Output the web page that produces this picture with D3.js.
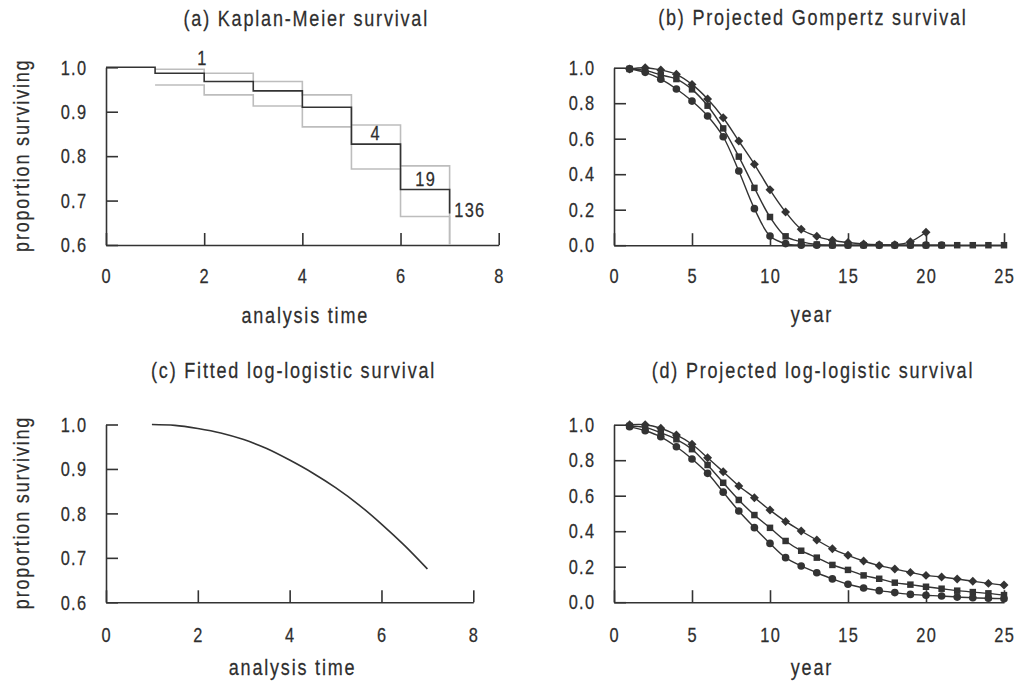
<!DOCTYPE html>
<html>
<head>
<meta charset="utf-8">
<script src="https://cdn.jsdelivr.net/npm/d3@7"></script>
<style>
  html, body { margin: 0; padding: 0; background: #fff; }
  svg { display: block; }
  text { font-family: 'Liberation Sans', Arial, sans-serif; fill: #2e2e2e; stroke: #2e2e2e; stroke-width: 0.25px; }
</style>
</head>
<body>
<svg id="chart" width="1016" height="683"></svg>
<script>
// ---------- data ----------
// (a) Kaplan-Meier
const kmTime  = [0, 1, 2, 3, 4, 5, 6, 7];
const kmSurv  = [1.0, 0.9865, 0.968, 0.947, 0.910, 0.827, 0.725, 0.671];
const ciTime  = [1, 2, 3, 4, 5, 6, 7];
const ciUpper = [0.9955, 0.9865, 0.968, 0.938, 0.870, 0.778, 0.6];
const ciLower = [0.960, 0.938, 0.913, 0.866, 0.771, 0.664, 0.6];
const kmLabelText = ["1", "4", "19", "136"];
const kmLabelTime = [1.95, 5.48, 6.5, 7.4];
const kmLabelSurv = [1.005, 0.836, 0.733, 0.663];

// (b) Projected Gompertz survival
const gompYears = d3.range(1, 26);
const gompDiamond = [0.993, 1.0, 0.987, 0.963, 0.906, 0.824, 0.718, 0.587, 0.456, 0.312, 0.187, 0.09, 0.05, 0.028, 0.015, 0.007, 0.003, 0.002, 0.02, 0.073];
const gompSquare  = [0.993, 0.985, 0.959, 0.936, 0.878, 0.786, 0.658, 0.499, 0.323, 0.159, 0.05, 0.02, 0.004, 0, 0, 0, 0, 0, 0, 0, 0, 0, 0, 0, 0];
const gompCircle  = [0.993, 0.974, 0.935, 0.88, 0.812, 0.728, 0.611, 0.418, 0.206, 0.052, 0.009, 0, 0, 0, 0, 0, 0, 0, 0, 0, 0];

// (c) Fitted log-logistic survival
const llTime = [1, 1.5, 2, 2.5, 3, 3.5, 4, 4.5, 5, 5.5, 6, 6.5, 7];
const llSurv = [1.0, 0.998, 0.991, 0.981, 0.966, 0.946, 0.920, 0.891, 0.858, 0.820, 0.776, 0.728, 0.675];

// (d) Projected log-logistic survival
const llpYears = d3.range(1, 26);
const llpDiamond = [1.0, 1.0, 0.98, 0.942, 0.89, 0.814, 0.735, 0.655, 0.589, 0.519, 0.455, 0.401, 0.35, 0.301, 0.264, 0.232, 0.206, 0.187, 0.168, 0.151, 0.142, 0.131, 0.118, 0.106, 0.097];
const llpSquare  = [0.993, 0.985, 0.955, 0.918, 0.862, 0.773, 0.673, 0.576, 0.491, 0.419, 0.345, 0.29, 0.251, 0.21, 0.182, 0.151, 0.132, 0.11, 0.099, 0.087, 0.076, 0.065, 0.057, 0.05, 0.04];
const llpCircle  = [0.989, 0.966, 0.932, 0.876, 0.807, 0.726, 0.62, 0.514, 0.42, 0.331, 0.251, 0.204, 0.166, 0.131, 0.101, 0.08, 0.065, 0.054, 0.044, 0.039, 0.035, 0.029, 0.025, 0.022, 0.02];

// tick labels
const kmXTicks = [0, 2, 4, 6, 8];
const kmYTicks = [0.6, 0.7, 0.8, 0.9, 1.0];
const yrXTicks = [0, 5, 10, 15, 20, 25];
const yrYTicks = [0, 0.2, 0.4, 0.6, 0.8, 1.0];

const titles = ["(a) Kaplan-Meier survival", "(b) Projected Gompertz survival",
                "(c) Fitted log-logistic survival", "(d) Projected log-logistic survival"];
const xLabels = ["analysis time", "year", "analysis time", "year"];
const yLabel = "proportion surviving";

// ---------- drawing ----------
const svg = d3.select("#chart");
const INK = "#333";
const GREY = "#bdbdbd";
const SQ = 0.82; // horizontal condensing

// condensed text helper
function ctext(g, x, y, str, size, ls, anchor, rot) {
  const shift = anchor === "end" ? ls : anchor === "middle" ? ls / 2 : 0;
  return g.append("text")
    .attr("transform", `translate(${x},${y}) rotate(${rot || 0}) scale(${SQ},1)`)
    .attr("x", shift / SQ)
    .attr("text-anchor", anchor)
    .style("font-size", size + "px")
    .style("letter-spacing", (ls / SQ) + "px")
    .text(str);
}

function panel(cfg) {
  const g = svg.append("g");
  const x = d3.scaleLinear().domain(cfg.xd).range(cfg.xr);
  const y = d3.scaleLinear().domain(cfg.yd).range(cfg.yr);

  const ya = g.append("g").attr("transform", `translate(${cfg.xr[0]},0)`)
    .call(d3.axisLeft(y).tickValues(cfg.yt).tickFormat("").tickSize(-12).tickSizeOuter(0));
  const xa = g.append("g").attr("transform", `translate(0,${cfg.yr[0]})`)
    .call(d3.axisBottom(x).tickValues(cfg.xt).tickFormat("").tickSize(-12).tickSizeOuter(0));
  [ya, xa].forEach(a => {
    a.select(".domain").attr("stroke", INK).attr("stroke-width", 1.6);
    a.selectAll(".tick line").attr("stroke", INK).attr("stroke-width", 1.6);
  });

  // tick labels via the scales
  const fy = d3.format(".1f"), fx = d3.format("d");
  cfg.yt.forEach(v => ctext(g, cfg.xr[0] - 20, y(v) + 7.2, fy(v), 20, 1.3, "end"));
  cfg.xt.forEach(v => ctext(g, x(v), cfg.xTickBase, fx(v), 20, 1.3, "middle"));

  ctext(g, (cfg.xr[0] + cfg.xr[1]) / 2 + 3, cfg.titleY, cfg.title, 22, 1.8, "middle");
  ctext(g, (cfg.xr[0] + cfg.xr[1]) / 2 + 2, cfg.xLabelY, cfg.xLabel, 22, 1.8, "middle");
  if (cfg.yLabel) ctext(g, 29, (cfg.yr[0] + cfg.yr[1]) / 2, cfg.yLabel, 22, 1.8, "middle", -90);
  return { g, x, y };
}

function stepLine(p, xs, ys, color, w) {
  const line = d3.line().x(d => p.x(d[0])).y(d => p.y(d[1])).curve(d3.curveStepAfter);
  p.g.append("path").datum(xs.map((t, i) => [t, ys[i]]))
    .attr("d", line).attr("fill", "none").attr("stroke", color).attr("stroke-width", w);
}

function markerSeries(p, xs, ys, shape) {
  const pts = ys.map((v, i) => [xs[i], v]);
  const line = d3.line().x(d => p.x(d[0])).y(d => p.y(d[1])).curve(d3.curveCatmullRom.alpha(0.5));
  p.g.append("path").datum(pts).attr("d", line)
    .attr("fill", "none").attr("stroke", INK).attr("stroke-width", 1.4);
  let sym, rot = 0;
  if (shape === "circle") sym = d3.symbol(d3.symbolCircle, 46);
  else if (shape === "square") sym = d3.symbol(d3.symbolSquare, 42);
  else { sym = d3.symbol(d3.symbolSquare, 40); rot = 45; }
  p.g.append("g").selectAll("path").data(pts).join("path")
    .attr("d", sym)
    .attr("transform", d => `translate(${p.x(d[0])},${p.y(d[1])}) rotate(${rot})`)
    .attr("fill", INK);
}

// (a)
const pa = panel({ xd: [0, 8], xr: [106, 498.7], yd: [0.6, 1.0], yr: [245, 67.3],
  xt: kmXTicks, yt: kmYTicks, title: titles[0], titleY: 26, xTickBase: 283,
  xLabel: xLabels[0], xLabelY: 323, yLabel: yLabel });
stepLine(pa, ciTime, ciUpper, GREY, 1.6);
stepLine(pa, ciTime, ciLower, GREY, 1.6);
stepLine(pa, kmTime, kmSurv, INK, 1.6);
kmLabelText.forEach((t, i) => ctext(pa.g, pa.x(kmLabelTime[i]), pa.y(kmLabelSurv[i]), t, 20, 1.3, "middle"));

// (b)
const pb = panel({ xd: [0, 25], xr: [614, 1004], yd: [0, 1], yr: [245.2, 67.7],
  xt: yrXTicks, yt: yrYTicks, title: titles[1], titleY: 25, xTickBase: 283,
  xLabel: xLabels[1], xLabelY: 322 });
markerSeries(pb, gompYears, gompDiamond, "diamond");
markerSeries(pb, gompYears, gompSquare, "square");
markerSeries(pb, gompYears, gompCircle, "circle");

// (c)
const pc = panel({ xd: [0, 8], xr: [106, 473.3], yd: [0.6, 1.0], yr: [602.3, 424.5],
  xt: kmXTicks, yt: kmYTicks, title: titles[2], titleY: 378, xTickBase: 641.7,
  xLabel: xLabels[2], xLabelY: 675, yLabel: yLabel });
pc.g.append("path").datum(llTime.map((t, i) => [t, llSurv[i]]))
  .attr("d", d3.line().x(d => pc.x(d[0])).y(d => pc.y(d[1])).curve(d3.curveMonotoneX))
  .attr("fill", "none").attr("stroke", INK).attr("stroke-width", 1.6);

// (d)
const pd = panel({ xd: [0, 25], xr: [614, 1004], yd: [0, 1], yr: [602.2, 424.7],
  xt: yrXTicks, yt: yrYTicks, title: titles[3], titleY: 378, xTickBase: 641.7,
  xLabel: xLabels[3], xLabelY: 675 });
markerSeries(pd, llpYears, llpDiamond, "diamond");
markerSeries(pd, llpYears, llpSquare, "square");
markerSeries(pd, llpYears, llpCircle, "circle");
</script>
</body>
</html>
